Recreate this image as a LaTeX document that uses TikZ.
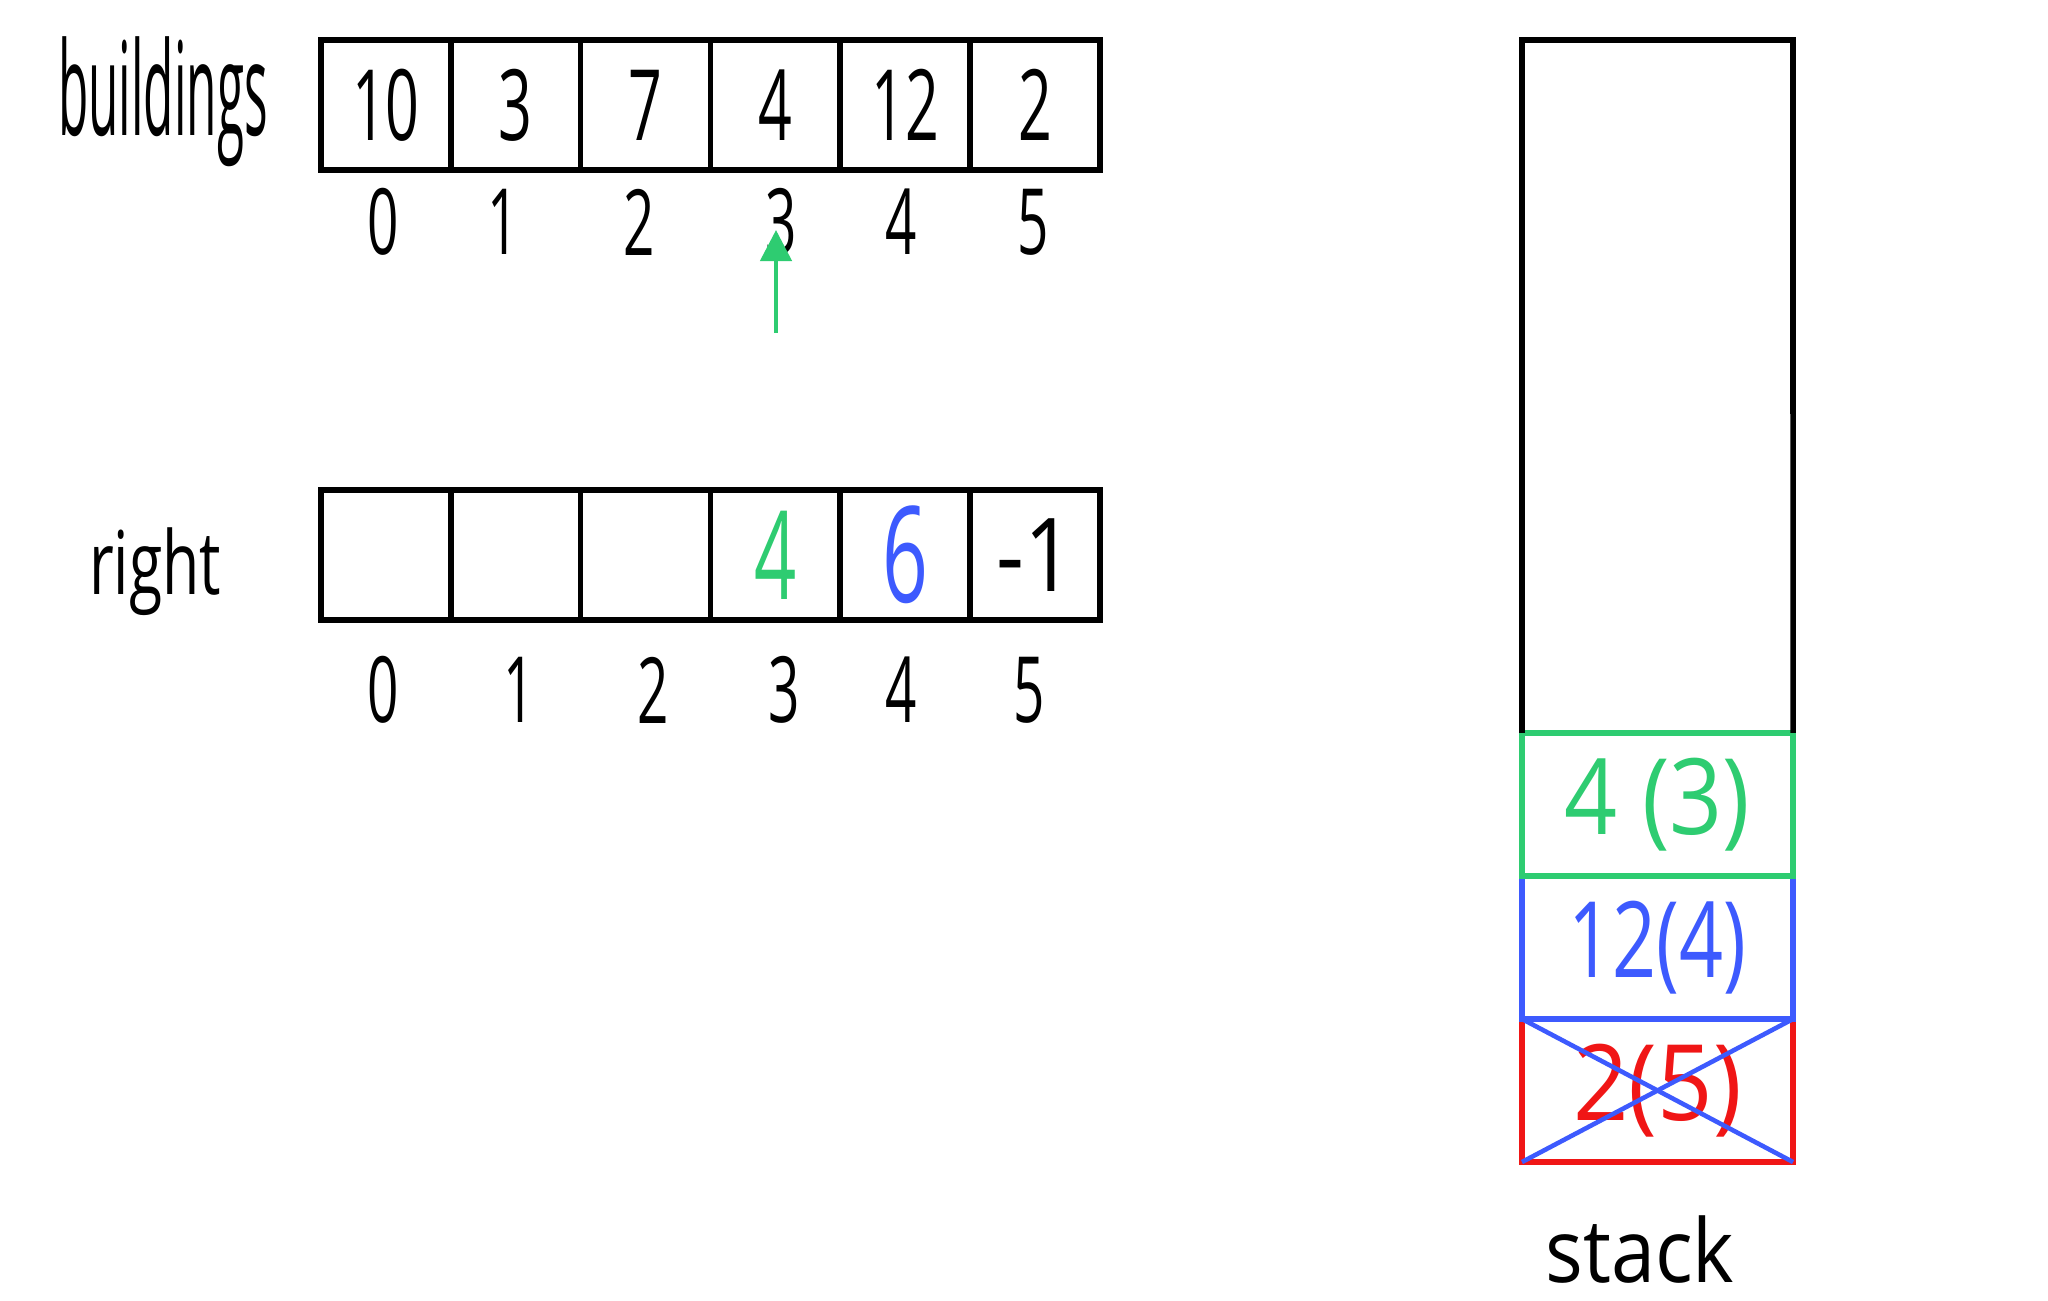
\documentclass[tikz,border=0pt]{standalone}
\usepackage{fontspec}
\usepackage{graphicx}
\setmainfont{Open Sans}
\usetikzlibrary{arrows.meta}
\definecolor{hgreen}{RGB}{46,204,113}
\definecolor{hblue}{RGB}{61,90,254}
\definecolor{hred}{RGB}{240,22,22}
\newcommand{\hwx}[2]{\scalebox{#1}[1]{#2}}
\begin{document}
\begin{tikzpicture}[x=0.01cm,y=-0.01cm,
  cell/.style={draw=black,line width=1.6pt,minimum width=1.298cm,minimum height=1.30cm,inner sep=0pt,outer sep=0pt},
  sbox/.style={draw=#1,text=#1,line width=1.6pt,minimum width=2.71cm,minimum height=1.43cm,inner sep=0pt,outer sep=0pt},
  val/.style={font=\fontsize{28}{28}\selectfont},
  idx/.style={inner sep=0pt,font=\fontsize{26}{26}\selectfont},
  lbl/.style={inner sep=0pt},
  stxt/.style={font=\fontsize{30}{30}\selectfont}]
\useasboundingbox (0,0) rectangle (2048,1301);
\fill[white] (0,0) rectangle (2048,1301);
% labels
\node[lbl,font=\fontsize{37}{37}\selectfont] (lb) at (163,102) {\hwx{0.38}{buildings}};
\node[lbl,font=\fontsize{25}{25}\selectfont] (lr) at (155,572) {\hwx{0.69}{right}};
\node[lbl,font=\fontsize{25}{25}\selectfont] (ls) at (1640,1250) {\hwx{0.9}{stack}};
% buildings array
\node[cell,val] (b0) at (385.9,105) {\hwx{0.6}{10}};
\node[cell,val] (b1) at (515.7,105) {\hwx{0.6}{3}};
\node[cell,val] (b2) at (645.5,105) {\hwx{0.6}{7}};
\node[cell,val] (b3) at (775.3,105) {\hwx{0.6}{4}};
\node[cell,val] (b4) at (905.1,105) {\hwx{0.6}{12}};
\node[cell,val] (b5) at (1034.9,105) {\hwx{0.6}{2}};
\node[idx] (i0) at (383,222) {\hwx{0.6}{0}};
\node[idx] (i1) at (503,222) {\hwx{0.6}{1}};
\node[idx] (i2) at (639,222) {\hwx{0.6}{2}};
\node[idx] (i3) at (781,222) {\hwx{0.6}{3}};
\node[idx] (i4) at (901,222) {\hwx{0.6}{4}};
\node[idx] (i5) at (1033,222) {\hwx{0.6}{5}};
% pointer arrow
\coordinate (p0) at (776,333);
\coordinate (p1) at (776,230);
\draw[hgreen,line width=1.3pt,-{Triangle[width=0.31cm,length=0.31cm]}] (p0) -- (p1);
% right array
\node[cell] (r0) at (385.9,555) {};
\node[cell] (r1) at (515.7,555) {};
\node[cell] (r2) at (645.5,555) {};
\node[cell,text=hgreen,font=\fontsize{35}{35}\selectfont] (r3) at (775.3,555) {\hwx{0.6}{4}};
\node[cell,text=hblue,font=\fontsize{38}{38}\selectfont] (r4) at (905.1,555) {\hwx{0.6}{6}};
\node[cell,font=\fontsize{29}{29}\selectfont] (r5) at (1034.9,555) {\hwx{0.85}{-1}};
\node[idx] (j0) at (383,690) {\hwx{0.6}{0}};
\node[idx] (j1) at (519,690) {\hwx{0.6}{1}};
\node[idx] (j2) at (653,690) {\hwx{0.6}{2}};
\node[idx] (j3) at (784,690) {\hwx{0.6}{3}};
\node[idx] (j4) at (901,690) {\hwx{0.6}{4}};
\node[idx] (j5) at (1029,690) {\hwx{0.6}{5}};
% stack
\node[sbox=hred,stxt] (sr) at (1657.5,1090.5) {\hwx{0.92}{2(5)}};
\node[sbox=hblue,stxt] (sb) at (1657.5,947.5) {\hwx{0.73}{12(4)}};
\node[sbox=hgreen,stxt] (sg) at (1657.5,804.5) {\hwx{0.88}{4 (3)}};
\coordinate (st1) at (1522,40);
\coordinate (st2) at (1793,40);
\draw[line width=1.6pt,line join=miter] (sg.north west) -- (st1) -- (st2) -- (sg.north east);
\draw[hblue,line width=1.3pt] (sr.north west) -- (sr.south east);
\draw[hblue,line width=1.3pt] (sr.north east) -- (sr.south west);
\end{tikzpicture}
\end{document}
